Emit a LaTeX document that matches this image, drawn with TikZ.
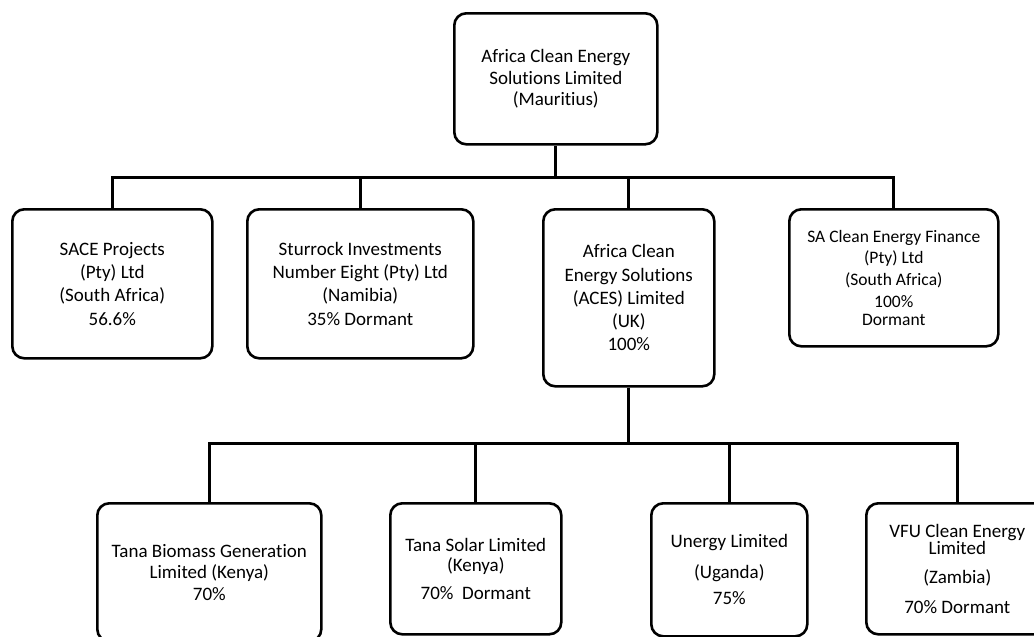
\documentclass[tikz,border=0pt]{standalone}
\usepackage{fontspec}
\setmainfont{Carlito}[Ligatures=NoCommon]
\begin{document}
\begin{tikzpicture}[x=1pt,y=-1pt,
  box/.style={draw, line width=2.6pt, rounded corners=12pt, inner sep=0pt,
    anchor=north west, align=center, fill=white},
  conn/.style={line width=3pt},
  ftop/.style={font=\fontsize{19}{21.5}\selectfont},
  fmid/.style={font=\fontsize{19}{23.3}\selectfont},
  ffin/.style={font=\fontsize{17.5}{21.7}\selectfont},
  fbot/.style={font=\fontsize{19}{21.5}\selectfont}]
\useasboundingbox (0,0) rectangle (1034,637);
\clip (0,0) rectangle (1034,637);
\fill[white] (0,0) rectangle (1034,637);

\coordinate (bus1) at (0,177);
\coordinate (bus2) at (0,443);

\node[box, ftop, minimum width=203pt, minimum height=131pt] (top) at (453,12)
  {Africa Clean Energy\\Solutions Limited\\(Mauritius)};
\node[box, fmid, minimum width=200pt, minimum height=149pt] (sace) at (11,208)
  {SACE Projects\\(Pty) Ltd\\(South Africa)\\56.6\%};
\node[box, fmid, minimum width=226pt, minimum height=149pt] (sturrock) at (246,208)
  {Sturrock Investments\\Number Eight (Pty) Ltd\\(Namibia)\\35\% Dormant};
\node[box, fmid, minimum width=171pt, minimum height=177pt] (aces) at (542,208)
  {Africa Clean\\Energy Solutions\\(ACES) Limited\\(UK)\\100\%};
\node[box, ffin, minimum width=209pt, minimum height=137pt] (safin) at (788,208)
  {SA Clean Energy Finance\\(Pty) Ltd\\(South Africa)\\100\%\\[-3.5pt]Dormant};

\node[box, fbot, minimum width=224pt, minimum height=138pt] (biomass) at (96,502)
  {Tana Biomass Generation\\Limited (Kenya)\\70\%};
\node[box, fbot, minimum width=171pt, minimum height=131pt] (solar) at (389,502)
  {Tana Solar Limited\\[-1pt](Kenya)\\[6pt]70\%~~Dormant};
\node[box, fbot, minimum width=156pt, minimum height=133pt] (unergy) at (650,502)
  {Unergy Limited\\[9pt](Uganda)\\[5pt]75\%};
\node[box, fbot, minimum width=182pt, minimum height=131pt] (vfu) at (865,502)
  {VFU Clean Energy\\[-4pt]Limited\\[7pt](Zambia)\\[9pt]70\% Dormant};

\draw[conn] (top.south) -- (top.south |- bus1);
\draw[conn] (sace.north) -- (sace.north |- bus1) -- (safin.north |- bus1) -- (safin.north);
\draw[conn] (sturrock.north) -- (sturrock.north |- bus1);
\draw[conn] (aces.north) -- (aces.north |- bus1);
\draw[conn] (aces.south) -- (aces.south |- bus2);
\draw[conn] (biomass.north) -- (biomass.north |- bus2) -- (vfu.north |- bus2) -- (vfu.north);
\draw[conn] (solar.north) -- (solar.north |- bus2);
\draw[conn] (unergy.north) -- (unergy.north |- bus2);
\end{tikzpicture}
\end{document}
